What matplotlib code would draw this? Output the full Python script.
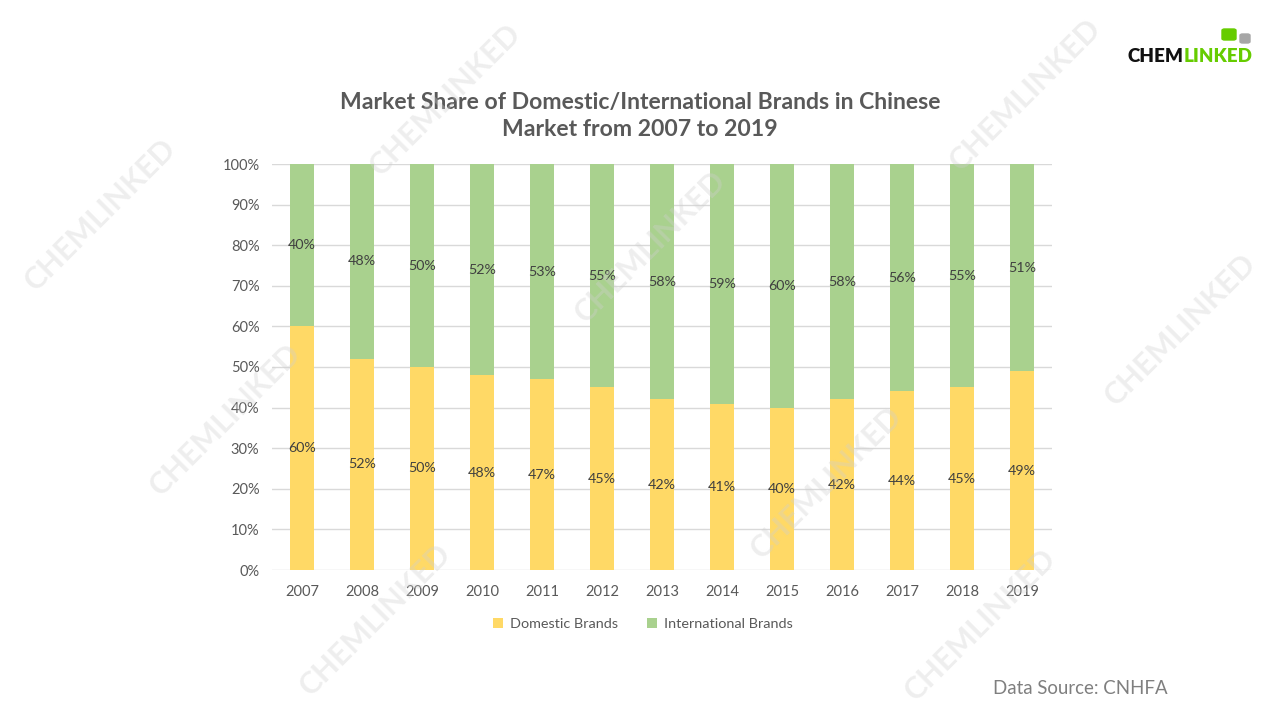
import matplotlib
matplotlib.use("Agg")
import matplotlib.pyplot as plt
from matplotlib.patches import FancyBboxPatch
import numpy as np

years = ["2007", "2008", "2009", "2010", "2011", "2012", "2013",
         "2014", "2015", "2016", "2017", "2018", "2019"]
domestic = [60, 52, 50, 48, 47, 45, 42, 41, 40, 42, 44, 45, 49]
international = [40, 48, 50, 52, 53, 55, 58, 59, 60, 58, 56, 55, 51]
y_ticks = [0, 10, 20, 30, 40, 50, 60, 70, 80, 90, 100]
series_names = ["Domestic Brands", "International Brands"]

YELLOW = "#FFD966"
GREEN = "#A9D18E"
FONT = "Lato"

plt.rcParams['font.family'] = [FONT, 'DejaVu Sans']

fig = plt.figure(figsize=(12.8, 7.2), dpi=100)
fig.patch.set_facecolor("white")
ax = fig.add_axes([272/1280, 1-570/720, (1052-272)/1280, (570-164)/720])

x = np.arange(len(years))
d = np.array(domestic) / 100.0
i_ = np.array(international) / 100.0
ax.bar(x, d, width=0.4, color=YELLOW, label=series_names[0], zorder=2)
ax.bar(x, i_, width=0.4, bottom=d, color=GREEN, label=series_names[1], zorder=2)

for xi, dv, iv in zip(x, d, i_):
    ax.text(xi, dv/2, f"{int(round(dv*100))}%", ha="center", va="center",
            fontsize=10.3, color="#404040", zorder=3)
    ax.text(xi, dv + iv/2, f"{int(round(iv*100))}%", ha="center", va="center",
            fontsize=10.3, color="#404040", zorder=3)

ax.set_xlim(-0.5, len(years) - 0.5)
ax.set_ylim(0, 1)
ax.set_yticks([t/100 for t in y_ticks])
ax.set_yticklabels([f"{t}%" for t in y_ticks])
ax.set_xticks(x)
ax.set_xticklabels(years)
ax.tick_params(axis="both", length=0, labelsize=10.5, colors="#595959")
ax.tick_params(axis="y", pad=9)
ax.tick_params(axis="x", pad=11)
ax.grid(axis="y", color="#D9D9D9", linewidth=1, zorder=0)
for s in ax.spines.values():
    s.set_visible(False)
ax.set_axisbelow(True)

leg = ax.legend(loc="upper center", bbox_to_anchor=((643-272)/780, -0.085), ncol=2,
                frameon=False, fontsize=10.4, handlelength=0.7, handleheight=0.7,
                columnspacing=2.0, handletextpad=0.5)
for t in leg.get_texts():
    t.set_color("#595959")

fig.text(640/1280, 1-102/720, "Market Share of Domestic/International Brands in Chinese",
         ha="center", va="center", fontsize=16.6, fontweight="bold", color="#595959")
fig.text(640/1280, 1-130/720, "Market from 2007 to 2019",
         ha="center", va="center", fontsize=16.6, fontweight="bold", color="#595959")

fig.text(1168/1280, 1-688/720, "Data Source: CNHFA", ha="right", va="center",
         fontsize=13.4, color="#7F7F7F")

# Logo
logo_font = dict(fontweight="heavy", fontsize=13.5)
fig.text(1183/1280, 1-57/720, "CHEM", ha="right", va="center", color="#111111", **logo_font)
fig.text(1184/1280, 1-57/720, "LINKED", ha="left", va="center", color="#66CC00", **logo_font)
fig.patches.append(FancyBboxPatch((1222/1280, 1-40/720), 14/1280, 11/720,
                                  boxstyle="round,pad=0,rounding_size=0.002",
                                  transform=fig.transFigure, color="#66CC00"))
fig.patches.append(FancyBboxPatch((1240/1280, 1-43/720), 10/1280, 9/720,
                                  boxstyle="round,pad=0,rounding_size=0.002",
                                  transform=fig.transFigure, color="#A6A6A6"))

# Watermarks
wm = [(100, 215), (445, 100), (1025, 95), (1180, 330), (650, 247),
      (826, 483), (375, 620), (225, 420), (980, 625)]
for (px, py) in wm:
    fig.text(px/1280, 1-py/720, "CHEMLINKED", ha="center", va="center",
             rotation=45, rotation_mode="anchor", fontsize=22, fontweight="bold",
             color="#D0D0D0", alpha=0.35, zorder=10)

fig.savefig("out.png", dpi=100)
